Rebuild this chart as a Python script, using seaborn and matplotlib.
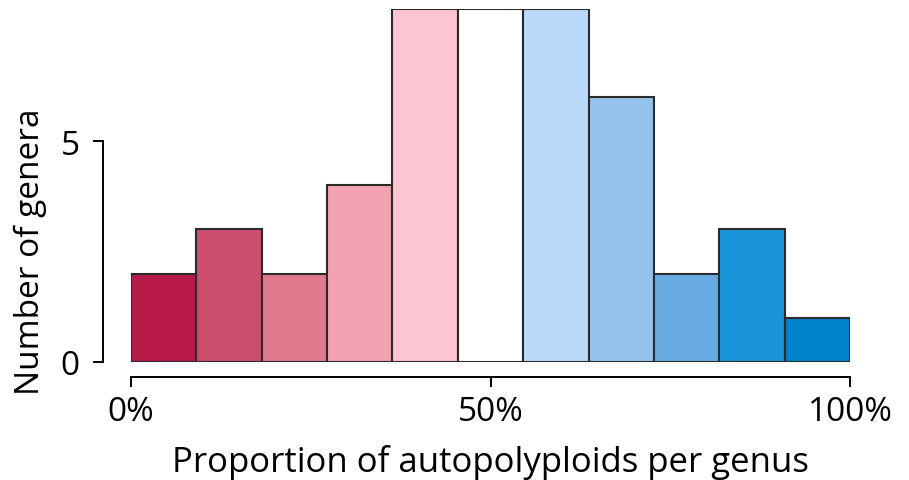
import numpy as np
import pandas as pd
import matplotlib
matplotlib.use("Agg")
import matplotlib.pyplot as plt
import seaborn as sns

# Data
bin_edges = list(np.linspace(0, 1, 12))
counts = [2, 3, 2, 4, 8, 8, 8, 6, 2, 3, 1]
bar_colors = ["#B8194B", "#CC4E6C", "#E07A8E", "#F2A2B0", "#FDC5D2", "#FFFFFF",
              "#BBDAFA", "#94C2EC", "#68ABE2", "#1B93D8", "#0081CC"]
x_ticks = [0, 0.5, 1.0]
x_ticklabels = ["0%", "50%", "100%"]
y_ticks = [0, 5]

sns.set_style("ticks")
plt.rcParams['font.family'] = ['Open Sans', 'DejaVu Sans']
plt.rcParams['text.color'] = 'black'
plt.rcParams['axes.labelcolor'] = 'black'

centers = [(bin_edges[i] + bin_edges[i + 1]) / 2 for i in range(len(counts))]
df = pd.DataFrame({"prop": centers, "n": counts})

fig = plt.figure(figsize=(9.09, 4.81), dpi=100)
ax = fig.add_axes([131/909, 1 - 363/481, (850 - 131)/909, (363 - 9.5)/481])

sns.histplot(data=df, x="prop", weights="n", bins=bin_edges, ax=ax,
             edgecolor="#2b2b2b", linewidth=1.5, alpha=1)
for patch, c in zip(ax.patches, bar_colors):
    patch.set_facecolor(c)

ax.set_xlim(0, 1)
ax.set_ylim(0, 8)
ax.set_xticks(x_ticks)
ax.set_xticklabels(x_ticklabels)
ax.set_yticks(y_ticks)
ax.set_xlabel("Proportion of autopolyploids per genus", fontsize=25, labelpad=11)
ax.set_ylabel("Number of genera", fontsize=24, va="center")
ax.yaxis.set_label_coords(-0.140, 0.314)
ax.tick_params(axis="both", labelsize=24, length=7, width=1.4, colors="black",
               labelcolor="black")
ax.tick_params(axis="x", pad=6)
ax.tick_params(axis="y", pad=10)

for s in ["top", "right"]:
    ax.spines[s].set_visible(False)
ax.spines["left"].set_position(("outward", 20))
ax.spines["bottom"].set_position(("outward", 11))
ax.spines["left"].set_bounds(0, 5)
ax.spines["bottom"].set_bounds(0, 1)
for s in ["left", "bottom"]:
    ax.spines[s].set_linewidth(1.4)
    ax.spines[s].set_color("black")

fig.savefig("out.png", dpi=100)
